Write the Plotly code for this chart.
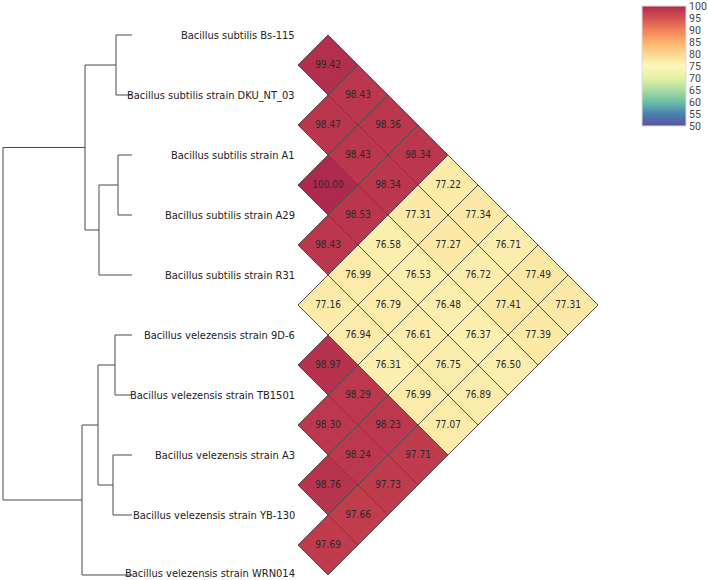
import plotly.graph_objects as go
from plotly.colors import sample_colorscale

# ---- data ----------------------------------------------------------------
strains = [
    "Bacillus subtilis Bs-115",
    "Bacillus subtilis strain DKU_NT_03",
    "Bacillus subtilis strain A1",
    "Bacillus subtilis strain A29",
    "Bacillus subtilis strain R31",
    "Bacillus velezensis strain 9D-6",
    "Bacillus velezensis strain TB1501",
    "Bacillus velezensis strain A3",
    "Bacillus velezensis strain YB-130",
    "Bacillus velezensis strain WRN014",
]

# pairwise ANI, upper triangle, row i lists values for j = i+1 .. 9
ani_rows = [
    [99.42, 98.43, 98.36, 98.34, 77.22, 77.34, 76.71, 77.49, 77.31],
    [98.47, 98.43, 98.34, 77.31, 77.27, 76.72, 77.41, 77.39],
    [100.00, 98.53, 76.58, 76.53, 76.48, 76.37, 76.50],
    [98.43, 76.99, 76.79, 76.61, 76.75, 76.89],
    [77.16, 76.94, 76.31, 76.99, 77.07],
    [98.97, 98.29, 98.23, 97.71],
    [98.30, 98.24, 97.73],
    [98.76, 97.66],
    [97.69],
]

# tree merges: (child a, child b, height); leaves 0..9, new nodes numbered from 10
merges = [
    (0, 1, 0.016),
    (2, 3, 0.014),
    (11, 4, 0.033),
    (10, 12, 0.047),
    (5, 6, 0.017),
    (7, 8, 0.019),
    (14, 15, 0.034),
    (16, 9, 0.050),
    (13, 17, 0.129),
]

cmin, cmax = 50, 100
colorscale = [
    [0.00, "#5b53a0"], [0.10, "#4a80b2"], [0.20, "#6bbfa5"], [0.30, "#acdba3"],
    [0.40, "#e4f1a5"], [0.50, "#fcf7bb"], [0.56, "#fce5a1"], [0.70, "#fbb16c"],
    [0.80, "#f2805a"], [0.90, "#d4524f"], [0.96, "#bd3a4e"], [1.00, "#ae2a4d"],
]

W, H = 708, 580
x0_px = 298      # left edge of the diamond block
cell_px = 60     # one strain step
top_px = 35      # first strain row
leaf_px = 132    # leaves of the tree
NARROW = "DejaVu Sans Condensed, Liberation Sans Narrow, sans-serif"

fig = go.Figure()

# ---- dendrogram ----------------------------------------------------------
ypos = {k: k for k in range(len(strains))}
hpos = {k: 0.0 for k in range(len(strains))}
tx, ty = [], []
node = len(strains)
for a, b, h in merges:
    tx += [hpos[a], h, h, hpos[b], None]
    ty += [ypos[a], ypos[a], ypos[b], ypos[b], None]
    ypos[node] = (ypos[a] + ypos[b]) / 2
    hpos[node] = h
    node += 1
fig.add_trace(go.Scatter(x=tx, y=ty, mode="lines", xaxis="x2", yaxis="y",
                         line=dict(color="#4a4a4a", width=1), hoverinfo="skip",
                         showlegend=False))

# ---- diamonds ------------------------------------------------------------
tx_txt, ty_txt, txt = [], [], []
for i, row in enumerate(ani_rows):
    for k, v in enumerate(row):
        j = i + 1 + k
        xc = (j - i) / 2
        yc = (i + j) / 2
        col = sample_colorscale(colorscale, [(v - cmin) / (cmax - cmin)])[0]
        fig.add_trace(go.Scatter(
            x=[xc - 0.5, xc, xc + 0.5, xc, xc - 0.5],
            y=[yc, yc - 0.5, yc, yc + 0.5, yc],
            mode="lines", fill="toself", fillcolor=col,
            line=dict(color="#4d4d4d", width=1), hoverinfo="skip",
            showlegend=False))
        tx_txt.append(xc)
        ty_txt.append(yc)
        txt.append(f"{v:.2f}")

fig.add_trace(go.Scatter(x=tx_txt, y=ty_txt, text=txt, mode="text",
                         textfont=dict(family=NARROW, size=10, color="#2a2a2a"),
                         hoverinfo="skip", showlegend=False))

# colour bar
fig.add_trace(go.Scatter(
    x=[1, 1], y=[0, 0], mode="markers", hoverinfo="skip", showlegend=False,
    marker=dict(size=1, opacity=0, color=[cmin, cmax], cmin=cmin, cmax=cmax,
                colorscale=colorscale, showscale=True,
                colorbar=dict(x=642 / W, xanchor="left", y=1 - 6 / H, yanchor="top",
                              thickness=44, thicknessmode="pixels",
                              len=120, lenmode="pixels",
                              outlinewidth=1, outlinecolor="#dddddd",
                              tickvals=list(range(50, 101, 5)), ticks="",
                              ticklabeloverflow="allow",
                              xpad=0, ypad=0,
                              tickfont=dict(family="Roboto, sans-serif", size=10.5,
                                            color="#444444")))))

# strain labels
for k, name in enumerate(strains):
    fig.add_annotation(x=0, y=k, xref="x", yref="y", text=name, showarrow=False,
                       xanchor="right", yanchor="middle", xshift=-1,
                       yshift=2 if k == len(strains) - 1 else 0,
                       font=dict(family=NARROW, size=11, color="#222222"))

fig.update_layout(
    width=W, height=H, margin=dict(l=0, r=0, t=0, b=0, autoexpand=False),
    paper_bgcolor="white", plot_bgcolor="white",
    xaxis=dict(domain=[x0_px / W, 1], range=[0, (W - x0_px) / cell_px],
               visible=False, fixedrange=True),
    xaxis2=dict(domain=[0, leaf_px / W], range=[leaf_px / 1000, 0],
                anchor="y", visible=False, fixedrange=True),
    yaxis=dict(range=[(H - top_px) / cell_px, -top_px / cell_px],
               visible=False, fixedrange=True),
)

fig.write_html("out.html", config={"displayModeBar": False},
               post_script="document.body.style.margin='0';")
